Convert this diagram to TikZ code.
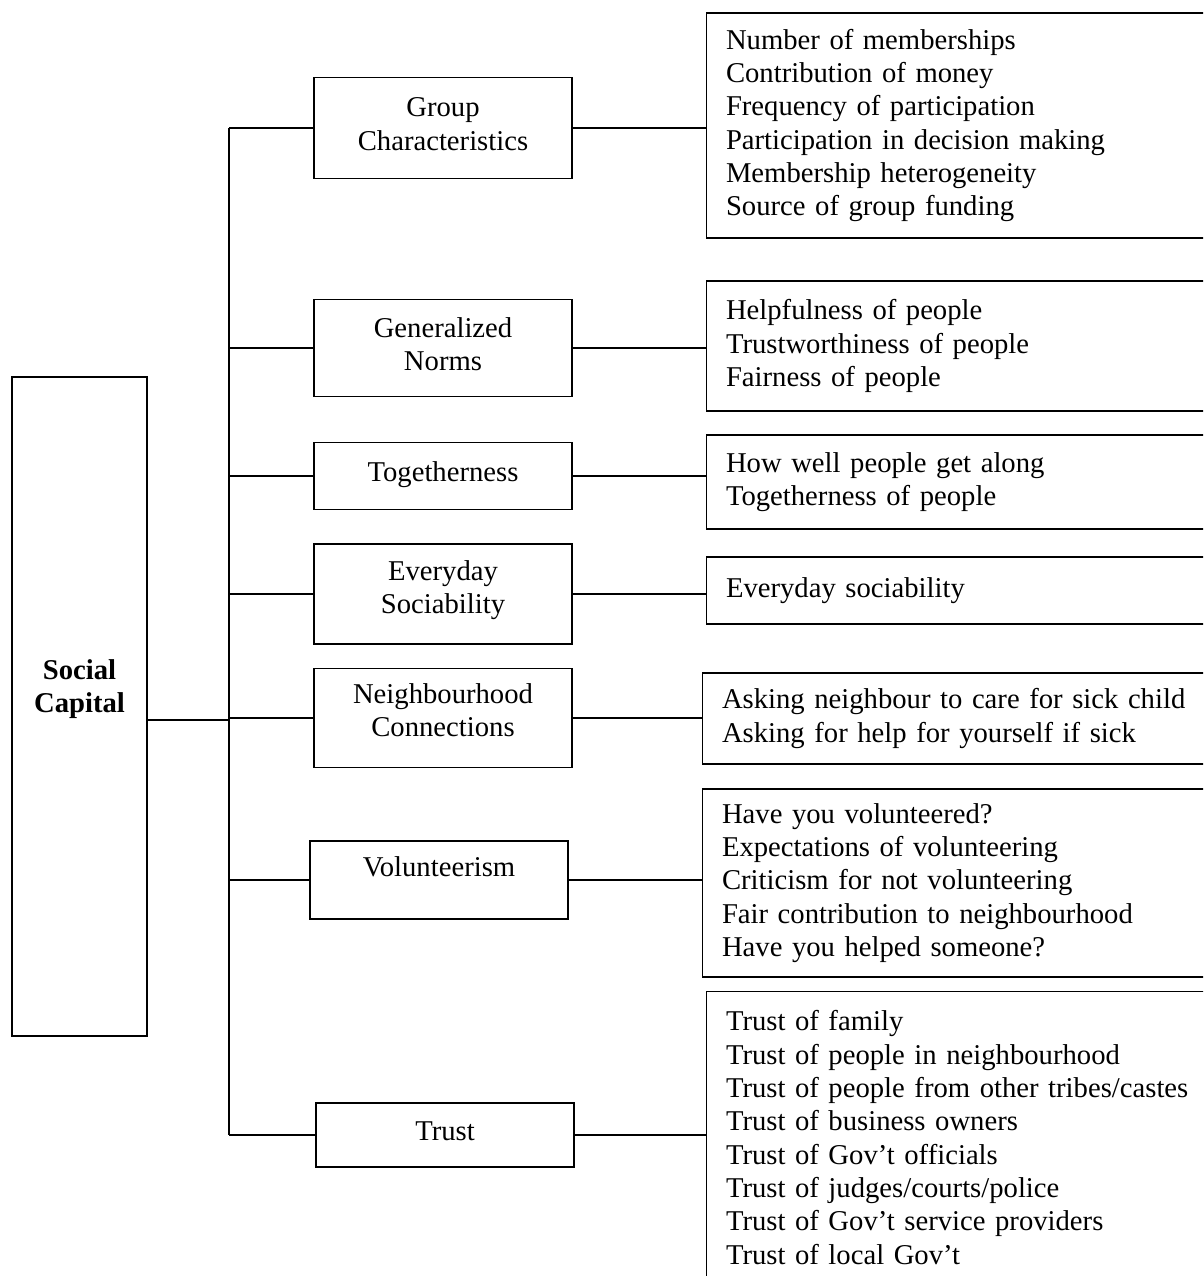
\documentclass[tikz,border=0pt]{standalone}
\usepackage{fontspec}
\setmainfont{Liberation Serif}
\begin{document}
\begin{tikzpicture}[x=0.75pt,y=0.75pt,yscale=-1,xscale=1,
  every node/.style={font=\fontsize{21.5}{25}\selectfont},
  line width=1pt,
  factor/.style={draw, align=center, minimum width=193.5pt, inner sep=0pt, text depth=6pt},
  items/.style={draw, anchor=west, align=left, text width=400pt, inner xsep=14.5pt}]
\useasboundingbox (0,0) rectangle (1203,1276);
\clip (0,0) rectangle (1203,1276);

%Shape: Rectangle 
\node [draw, align=center, minimum width=101.25pt, minimum height=494.25pt, text depth=31pt, font=\fontsize{21.5}{25}\selectfont\bfseries] (social) at (79.5,706.5) {Social\\Capital};

% Text Node
\node [factor, minimum height=75.75pt] (group) at (443,128) {Group\\Characteristics};
\node [factor, minimum height=72.75pt] (norms) at (443,348) {Generalized\\Norms};
\node [factor, minimum height=50.25pt] (together) at (443,476) {Togetherness};
\node [factor, minimum height=75pt, text depth=10.5pt] (everyday) at (443,594) {Everyday\\Sociability};
\node [factor, minimum height=74.25pt, text depth=12pt] (neighbour) at (443,718) {Neighbourhood\\Connections};
\node [factor, minimum height=58.5pt, text depth=19.5pt] (volunteer) at (439,880) {Volunteerism};
\node [factor, minimum height=48pt] (trust) at (445,1135) {Trust};

% Text Node
\node [items, minimum height=168.75pt] (group-items) at (706,125.5) {Number of memberships\\Contribution of money\\Frequency of participation\\Participation in decision making\\Membership heterogeneity\\Source of group funding};
\node [items, minimum height=97.5pt] (norms-items) at (706,346) {Helpfulness of people\\Trustworthiness of people\\Fairness of people};
\node [items, minimum height=70.5pt] (together-items) at (706,482) {How well people get along\\Togetherness of people};
\node [items, minimum height=50.25pt] (everyday-items) at (706,590.5) {Everyday sociability};
\node [items, minimum height=68.25pt] (neighbour-items) at (702,718.5) {Asking neighbour to care for sick child\\Asking for help for yourself if sick};
\node [items, minimum height=141pt] (volunteer-items) at (702,883) {Have you volunteered?\\Expectations of volunteering\\Criticism for not volunteering\\Fair contribution to neighbourhood\\Have you helped someone?};
\node [items, minimum height=219pt] (trust-items) at (706,1137.5) {Trust of family\\Trust of people in neighbourhood\\Trust of people from other tribes/castes\\Trust of business owners\\Trust of Gov’t officials\\Trust of judges/courts/police\\Trust of Gov’t service providers\\Trust of local Gov’t};

%Straight Lines 
\coordinate (trunk) at (229,720);
\draw (social.east |- trunk) -- (trunk);
\draw (trunk |- group.west) -- (trunk |- trust.west);
\foreach \f in {group,norms,together,everyday,neighbour,volunteer,trust}{
  \draw (trunk |- \f.west) -- (\f.west);
  \draw (\f.east) -- (\f.east -| \f-items.west);
}
\end{tikzpicture}
\end{document}
